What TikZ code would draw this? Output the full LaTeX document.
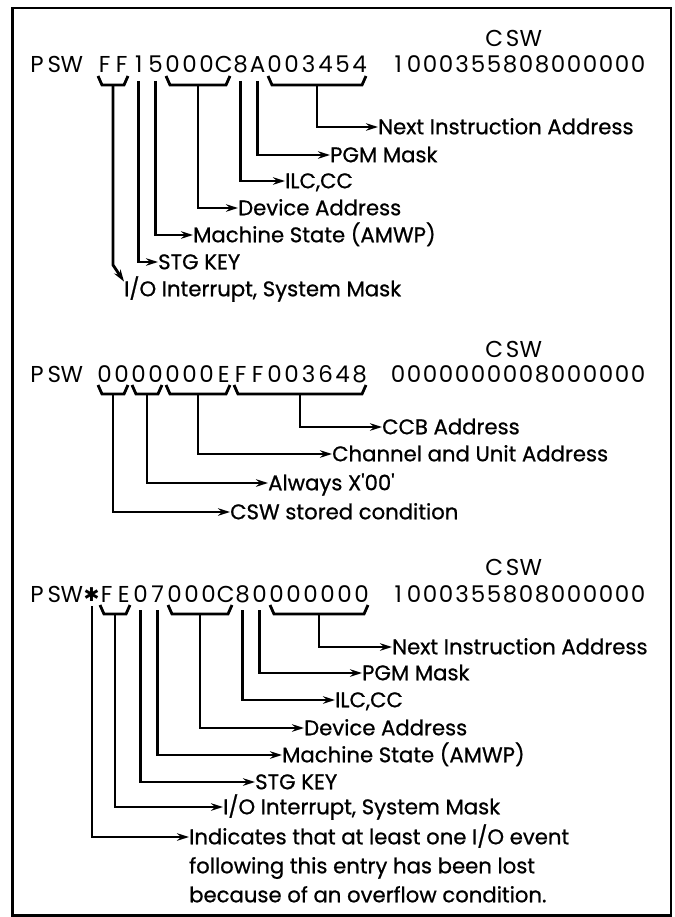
\documentclass[tikz,border=0pt]{standalone}
\usepackage{fontspec}
\setmainfont{Poppins}
\newfontfamily\lblfont{Poppins}[FakeBold=0.8]
\newfontfamily\symfont{DejaVu Sans}
\usetikzlibrary{arrows.meta}
\newlength\chpitch
\def\spcloop#1{\ifx#1\relax\else\makebox[\chpitch][c]{#1}\expandafter\spcloop\fi}
\newcommand\spcd[2]{\setlength\chpitch{#1}\spcloop#2\relax}
\newcommand\bracedraw[3]{\draw[ln] (#1,#3) -- ({#1+4},{#3+9}) -- ({#2-4},{#3+9}) -- (#2,#3);}
\begin{document}
\begin{tikzpicture}[x=1pt,y=-1pt,
  ln/.style={line width=2.8pt},
  arr/.style={ln, -{Stealth[length=12pt,width=7.5pt]}},
  hex/.style={anchor=base west, inner sep=0pt, font=\fontsize{23}{23}\selectfont},
  lbl/.style={anchor=west, inner sep=0pt, text height=14.5pt, text depth=0pt, font=\lblfont\fontsize{21.2}{24}\selectfont},
  frame/.style={line width=2.8pt}]
\useasboundingbox (0,0) rectangle (674,917);
\draw[frame] (12.7,8) rectangle (671,915.5);

% ---------- Panel 1 ----------
\node[hex] (csw1) at (485,47) {\spcd{18.3pt}{CSW}};
\node[hex] (psw1) at (28,73) {\spcd{17.5pt}{PSW}};
\node[hex] (hex1) at (96,73) {\spcd{17pt}{FF15000C8A003454}};
\node[hex] (dig1) at (390,73) {\spcd{16pt}{1000355808000000}};
\bracedraw{98}{128}{76}
\bracedraw{166}{230}{76}
\bracedraw{268}{366}{76}
\coordinate (p1a) at (113,85);
\coordinate (p1b) at (138.5,81);
\coordinate (p1c) at (155.5,81);
\coordinate (p1d) at (198,85);
\coordinate (p1e) at (240.5,81);
\coordinate (p1f) at (257.5,81);
\coordinate (p1g) at (317,85);
\node[lbl] (p1nia) at (378,127) {Next Instruction Address};
\node[lbl] (p1pgm) at (330,155) {PGM Mask};
\node[lbl] (p1ilc) at (285,181) {ILC,CC};
\node[lbl] (p1dev) at (238,208) {Device Address};
\node[lbl] (p1ms) at (193,235) {Machine State (AMWP)};
\node[lbl] (p1stg) at (158,262) {STG KEY};
\node[lbl] (p1io) at (124,289) {I/O Interrupt, System Mask};
\draw[arr] (p1g) |- (p1nia);
\draw[arr] (p1f) |- (p1pgm);
\draw[arr] (p1e) |- (p1ilc);
\draw[arr] (p1d) |- (p1dev);
\draw[arr] (p1c) |- (p1ms);
\draw[arr] (p1b) |- (p1stg);
\draw[arr] (p1a) -- (113,265) -- (p1io.north west);

% ---------- Panel 2 ----------
\node[hex] (csw2) at (485,357) {\spcd{18.3pt}{CSW}};
\node[hex] (psw2) at (28,382) {\spcd{17.5pt}{PSW}};
\node[hex] (hex2) at (96,382) {\spcd{17pt}{0000000EFF003648}};
\node[hex] (dig2) at (390,382) {\spcd{16pt}{0000000008000000}};
\bracedraw{98}{128}{385}
\bracedraw{132}{162}{385}
\bracedraw{166}{230}{385}
\bracedraw{234}{366}{385}
\coordinate (p2a) at (113,394);
\coordinate (p2b) at (147,394);
\coordinate (p2c) at (198,394);
\coordinate (p2d) at (300,394);
\node[lbl] (p2ccb) at (382,427) {CCB Address};
\node[lbl] (p2cua) at (332,454) {Channel and Unit Address};
\node[lbl] (p2alw) at (268,483) {Always X'00'};
\node[lbl] (p2csw) at (230,512) {CSW stored condition};
\draw[arr] (p2d) |- (p2ccb);
\draw[arr] (p2c) |- (p2cua);
\draw[arr] (p2b) |- (p2alw);
\draw[arr] (p2a) |- (p2csw);

% ---------- Panel 3 ----------
\node[hex] (csw3) at (485,575) {\spcd{18.3pt}{CSW}};
\node[hex] (psw3) at (28,602) {\spcd{17.5pt}{PSW}};
\node[inner sep=0pt, font=\symfont\fontsize{19}{19}\selectfont] (star3) at (91.5,595) {✱};
\node[hex] (hex3) at (98,602) {\spcd{17pt}{FE07000C80000000}};
\node[hex] (dig3) at (390,602) {\spcd{16pt}{1000355808000000}};
\bracedraw{100}{130}{605}
\bracedraw{168}{232}{605}
\bracedraw{270}{368}{605}
\coordinate (p3s) at (92,606);
\coordinate (p3a) at (115,614);
\coordinate (p3b) at (140.5,610);
\coordinate (p3c) at (157.5,610);
\coordinate (p3d) at (200,614);
\coordinate (p3e) at (242.5,610);
\coordinate (p3f) at (259.5,610);
\coordinate (p3g) at (319,614);
\node[lbl] (p3nia) at (392,647) {Next Instruction Address};
\node[lbl] (p3pgm) at (362,673) {PGM Mask};
\node[lbl] (p3ilc) at (335,700) {ILC,CC};
\node[lbl] (p3dev) at (304,728) {Device Address};
\node[lbl] (p3ms) at (282,755) {Machine State (AMWP)};
\node[lbl] (p3stg) at (255,782) {STG KEY};
\node[lbl] (p3io) at (223,807) {I/O Interrupt, System Mask};
\node[lbl] (p3ind1) at (189,837) {Indicates that at least one I/O event};
\node[lbl] (p3ind2) at (189,866) {following this entry has been lost};
\node[lbl] (p3ind3) at (189,895) {because of an overflow condition.};
\draw[arr] (p3g) |- (p3nia);
\draw[arr] (p3f) |- (p3pgm);
\draw[arr] (p3e) |- (p3ilc);
\draw[arr] (p3d) |- (p3dev);
\draw[arr] (p3c) |- (p3ms);
\draw[arr] (p3b) |- (p3stg);
\draw[arr] (p3a) |- (p3io);
\draw[arr] (p3s) |- (p3ind1);
\end{tikzpicture}
\end{document}
